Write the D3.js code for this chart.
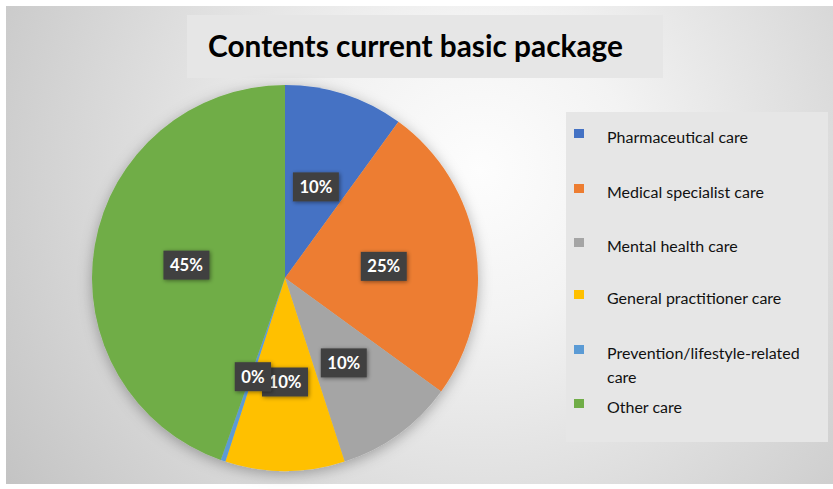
<!DOCTYPE html>
<html>
<head>
<meta charset="utf-8">
<script src="https://cdn.jsdelivr.net/npm/d3@7"></script>
<style>
  html, body { margin: 0; padding: 0; background: #ffffff; }
  svg { display: block; }
</style>
</head>
<body>
<svg id="chart" width="833" height="489"></svg>
<script>
// Share of the current basic package by kind of care (percent)
const categories = [
  "Pharmaceutical care",
  "Medical specialist care",
  "Mental health care",
  "General practitioner care",
  "Prevention/lifestyle-related care",
  "Other care"
];
const shares = [10, 25, 10, 10, 0.4, 44.6];
const colors = ["#4472c4", "#ed7d31", "#a5a5a5", "#ffc000", "#5b9bd5", "#70ad47"];
const chartTitle = "Contents current basic package";

const W = 833, H = 489;
const svg = d3.select("#chart");
const defs = svg.append("defs");

// background panel with a soft radial light
const grad = defs.append("radialGradient")
  .attr("id", "bgGrad")
  .attr("gradientUnits", "userSpaceOnUse")
  .attr("cx", 480).attr("cy", 170).attr("r", 600);
grad.append("stop").attr("offset", 0).attr("stop-color", "#fdfdfd");
grad.append("stop").attr("offset", 0.25).attr("stop-color", "#f3f3f3");
grad.append("stop").attr("offset", 1).attr("stop-color", "#c0c0c0");

const pieShadow = defs.append("filter").attr("id", "pieShadow")
  .attr("x", "-20%").attr("y", "-20%").attr("width", "140%").attr("height", "140%");
pieShadow.append("feDropShadow").attr("dx", 0).attr("dy", 3)
  .attr("stdDeviation", 7).attr("flood-color", "#000").attr("flood-opacity", 0.3);

const boxShadow = defs.append("filter").attr("id", "boxShadow")
  .attr("x", "-40%").attr("y", "-40%").attr("width", "180%").attr("height", "180%");
boxShadow.append("feDropShadow").attr("dx", 1).attr("dy", 1)
  .attr("stdDeviation", 2).attr("flood-color", "#000").attr("flood-opacity", 0.45);

svg.append("rect").attr("x", 6).attr("y", 6).attr("width", W - 6).attr("height", H - 11)
  .attr("fill", "url(#bgGrad)");

// scale a text element's font size so it spans a target width; returns the size
function fitWidth(sel, target) {
  const fs = parseFloat(sel.attr("font-size"));
  const len = sel.node().getComputedTextLength();
  const size = +(fs * target / len).toFixed(2);
  sel.attr("font-size", size);
  return size;
}

// title
svg.append("rect").attr("x", 187).attr("y", 15).attr("width", 476).attr("height", 63)
  .attr("fill", "#e6e6e6");
const title = svg.append("text")
  .attr("x", 415.5).attr("y", 57)
  .attr("text-anchor", "middle")
  .attr("font-family", "Lato, 'Open Sans', sans-serif")
  .attr("font-weight", "bold")
  .attr("font-size", 28)
  .attr("fill", "#000")
  .text(chartTitle);
fitWidth(title, 415);

// pie
const cx = 285, cy = 278, R = 193;
const total = d3.sum(shares);
const pie = d3.pie().sort(null).value(d => d);
const arcs = pie(shares);
const arc = d3.arc().innerRadius(0).outerRadius(R);
const labelArc = d3.arc().innerRadius(100).outerRadius(100);
const color = d3.scaleOrdinal().domain(categories).range(colors);

const g = svg.append("g").attr("transform", `translate(${cx},${cy})`);
g.append("g").attr("filter", "url(#pieShadow)")
  .selectAll("path")
  .data(arcs)
  .join("path")
  .attr("d", arc)
  .attr("fill", (d, i) => color(categories[i]));

// data labels
const fmt = v => Math.round(v / total * 100) + "%";
const probe = svg.append("text")
  .attr("font-family", "Lato, 'Open Sans', sans-serif")
  .attr("font-weight", "bold").attr("font-size", 15).text("10%");
const labelSize = fitWidth(probe, 33);
probe.remove();

const labels = g.append("g");
arcs.forEach((d, i) => {
  const [lx, ly] = labelArc.centroid(d);
  const lgp = labels.append("g").attr("transform", `translate(${lx},${ly + 4})`);
  const box = lgp.append("rect").attr("fill", "#404040").attr("filter", "url(#boxShadow)");
  const t = lgp.append("text")
    .attr("text-anchor", "middle")
    .attr("dy", "0.35em")
    .attr("font-family", "Lato, 'Open Sans', sans-serif")
    .attr("font-weight", "bold")
    .attr("font-size", labelSize)
    .attr("fill", "#ffffff")
    .text(fmt(shares[i]));
  const w = t.node().getComputedTextLength() + 13;
  box.attr("x", -w / 2).attr("y", -14.5).attr("width", w).attr("height", 29);
});

// legend
svg.append("rect").attr("x", 566).attr("y", 112).attr("width", W - 5 - 566).attr("height", 330)
  .attr("fill", "#e6e6e6");
const legendFont = "Lato, 'Open Sans', sans-serif";
const lprobe = svg.append("text").attr("font-family", legendFont)
  .attr("font-size", 14).text(categories[0]);
const legendSize = fitWidth(lprobe, 141);
lprobe.remove();

const legendRows = [
  { y: 134, lines: [categories[0]] },
  { y: 189, lines: [categories[1]] },
  { y: 243, lines: [categories[2]] },
  { y: 295, lines: [categories[3]] },
  { y: 350, lines: ["Prevention/lifestyle-related", "care"] },
  { y: 404, lines: [categories[5]] }
];
const lg = svg.append("g");
legendRows.forEach((row, i) => {
  lg.append("rect").attr("x", 574).attr("y", row.y - 5).attr("width", 10).attr("height", 9)
    .attr("fill", color(categories[i]));
  row.lines.forEach((line, j) => {
    lg.append("text")
      .attr("x", 607).attr("y", row.y + 3 + j * 24)
      .attr("dy", "0.35em")
      .attr("font-family", legendFont)
      .attr("font-size", legendSize)
      .attr("fill", "#111111")
      .text(line);
  });
});
</script>
</body>
</html>
